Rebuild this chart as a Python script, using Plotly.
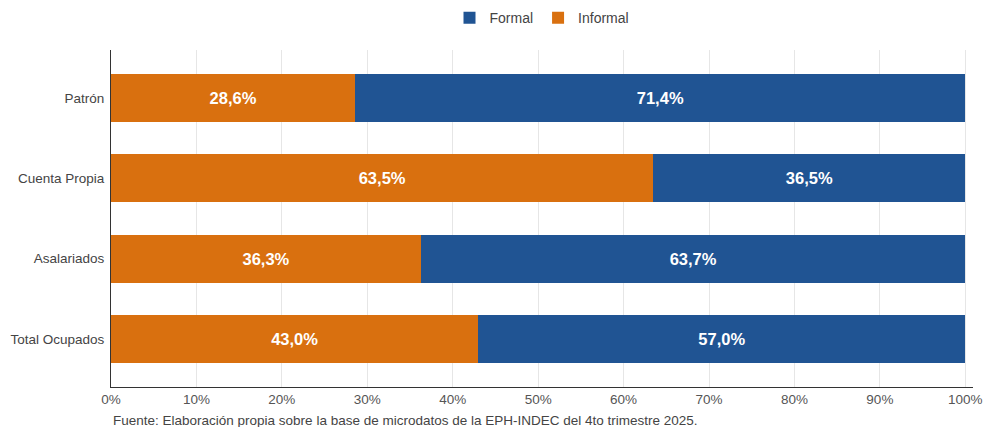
import plotly.graph_objects as go

categories = ["Total Ocupados", "Asalariados", "Cuenta Propia", "Patrón"]
informal = [43.0, 36.3, 63.5, 28.6]
formal = [57.0, 63.7, 36.5, 71.4]
x_ticks = [0, 10, 20, 30, 40, 50, 60, 70, 80, 90, 100]
x_tick_labels = [f"{v}%" for v in x_ticks]

def fmt(v):
    return f"{v:.1f}%".replace(".", ",")

FONT = "Liberation Sans, Arial, sans-serif"

fig = go.Figure()
fig.add_trace(go.Bar(
    y=categories, x=informal, name="Informal", orientation="h",
    marker=dict(color="#d9700f", line=dict(width=0)),
    text=[fmt(v) for v in informal], textposition="inside", insidetextanchor="middle",
    textfont=dict(color="white", size=16.5, family=FONT, weight="bold"),
))
fig.add_trace(go.Bar(
    y=categories, x=formal, name="Formal", orientation="h",
    marker=dict(color="#205493", line=dict(width=0)),
    text=[fmt(v) for v in formal], textposition="inside", insidetextanchor="middle",
    textfont=dict(color="white", size=16.5, family=FONT, weight="bold"),
))

fig.update_layout(
    width=984, height=427,
    barmode="stack", bargap=0.4,
    plot_bgcolor="white", paper_bgcolor="white",
    margin=dict(l=111, r=11, t=50, b=40, autoexpand=False),
    font=dict(family=FONT, size=13, color="#444444"),
    legend=dict(orientation="h", x=0.5, xanchor="center", y=0.995, yanchor="top",
                yref="container", traceorder="reversed", font=dict(size=14, color="#444444"),
                itemwidth=30),
    uniformtext=dict(mode="show", minsize=10),
    xaxis=dict(range=[0, 100.9], tickvals=x_ticks, ticktext=x_tick_labels,
               showgrid=True, gridcolor="#e6e6e6", gridwidth=1,
               showline=True, linecolor="#333333", linewidth=1, automargin=False,
               zeroline=False, ticks="", tickfont=dict(size=13.5, color="#555555")),
    yaxis=dict(categoryorder="array", categoryarray=categories, range=[-0.6, 3.6],
               showline=True, linecolor="#333333", linewidth=1, showgrid=False, automargin=False,
               ticks="", ticklabelstandoff=3, tickfont=dict(size=13.5, color="#444444")),
    annotations=[dict(text="Fuente: Elaboración propia sobre la base de microdatos de la EPH-INDEC del 4to trimestre 2025.",
                      xref="paper", yref="paper", x=0, y=-0.07, xanchor="left", yanchor="top",
                      showarrow=False, font=dict(size=13.5, color="#444444"))],
)

fig.write_html("out.html", config={"displayModeBar": False},
               post_script="document.body.style.margin='0';document.body.style.padding='0';")
